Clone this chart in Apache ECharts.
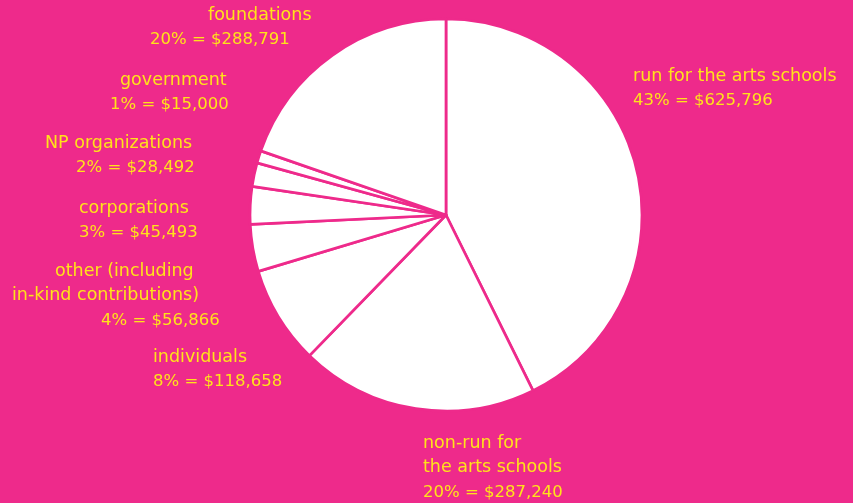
<!DOCTYPE html>
<html>
<head>
<meta charset="utf-8">
<script src="https://cdn.jsdelivr.net/npm/echarts@6/dist/echarts.min.js"></script>
<style>
  html, body { margin: 0; padding: 0; background: #EE2A8B; }
  #chart { width: 853px; height: 503px; }
</style>
</head>
<body>
<div id="chart"></div>
<script>
// Funding sources, in drawing order (clockwise from 12 o'clock)
const sourceNames = [
  ['run for the arts schools'],
  ['non-run for', 'the arts schools'],
  ['individuals'],
  ['other (including', 'in-kind contributions)'],
  ['corporations'],
  ['NP organizations'],
  ['government'],
  ['foundations']
];
const sourceAmounts = [625796, 287240, 118658, 56866, 45493, 28492, 15000, 288791];

// Label block anchors (top-left) and per-line left indents
const labelAnchors = [
  [633, 64], [423, 431], [153, 345], [12, 259],
  [79, 196], [45, 131], [110, 68], [150, 3]
];
const lineIndents = [
  [0, 0], [0, 0, 0], [0, 0], [43, 0, 89],
  [0, 0], [0, 31], [10, 0], [58, 0]
];

const BG = '#EE2A8B';
const INK = '#FFE31A';
const FONT = '"DejaVu Sans", sans-serif';
const WORD_SIZE = 17.5;
const NUM_SIZE = 16.5;

const fmtMoney = v => '$' + v.toLocaleString('en-US');

const total = sourceAmounts.reduce((a, b) => a + b, 0);

const items = sourceAmounts.map((v, i) => {
  const pct = Math.round(v / total * 100);
  const allLines = sourceNames[i].concat([pct + '% = ' + fmtMoney(v)]);
  const last = allLines.length - 1;
  const rich = {};
  const parts = allLines.map((t, k) => {
    rich['l' + k] = {
      padding: [0, 0, 0, lineIndents[i][k] || 0],
      fontSize: k === last ? NUM_SIZE : WORD_SIZE,
      lineHeight: 24.5, color: INK, fontFamily: FONT
    };
    return '{l' + k + '|' + t + '}';
  });
  return {
    name: sourceNames[i].join(' '),
    value: v,
    label: { formatter: parts.join('\n'), rich: rich }
  };
});

const chart = echarts.init(document.getElementById('chart'), null, { renderer: 'canvas' });
chart.setOption({
  backgroundColor: BG,
  animation: false,
  series: [{
    type: 'pie',
    center: [446, 215],
    radius: 196,
    startAngle: 90,
    clockwise: true,
    data: items,
    itemStyle: { color: '#FFFFFF', borderColor: BG, borderWidth: 2.7 },
    label: {
      show: true,
      position: 'outside',
      align: 'left',
      overflow: 'none',
      width: 400,
      color: INK,
      fontFamily: FONT,
      fontSize: NUM_SIZE
    },
    labelLine: { show: false },
    labelLayout: function (p) {
      const a = labelAnchors[p.dataIndex];
      return { x: a[0], y: a[1], align: 'left', verticalAlign: 'top' };
    },
    emphasis: { disabled: true }
  }]
});
</script>
</body>
</html>
